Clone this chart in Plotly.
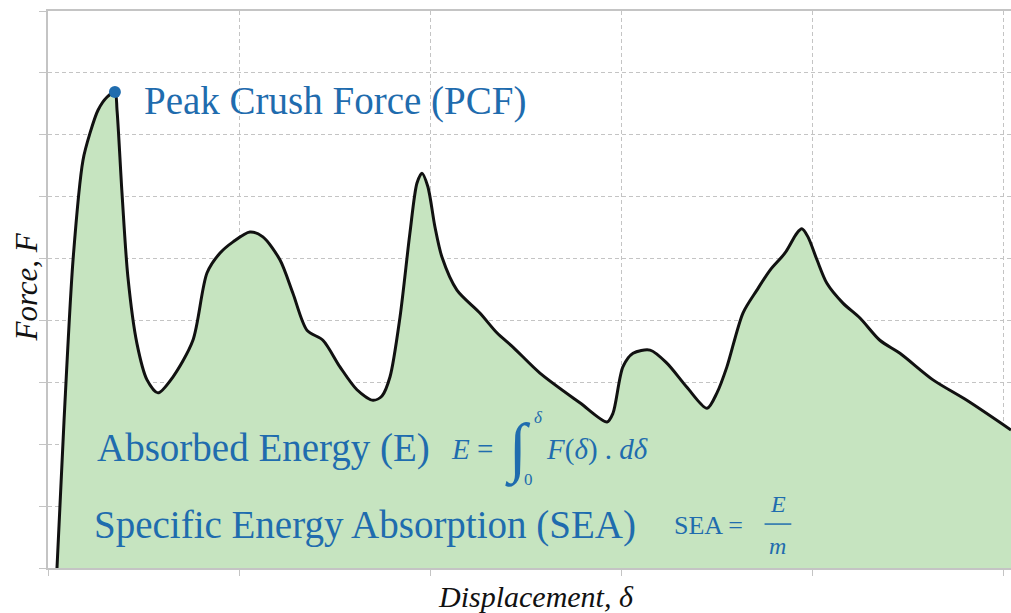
import plotly.graph_objects as go

# Force-displacement curve (data units: x grid step 1, y grid step 1)
disp = [0.047, 0.084, 0.131, 0.183, 0.220, 0.262, 0.309, 0.350, 0.361, 0.387, 0.418,
        0.465, 0.518, 0.575, 0.654, 0.758, 0.832, 0.900, 0.968, 1.056, 1.124, 1.213, 1.281,
        1.355, 1.438, 1.527, 1.616, 1.700, 1.747, 1.789, 1.841, 1.893, 1.930, 1.956, 1.987,
        2.024, 2.061, 2.139, 2.259, 2.348, 2.432, 2.573, 2.782, 2.924, 2.955, 3.007, 3.060,
        3.149, 3.237, 3.342, 3.447, 3.499, 3.551, 3.635, 3.708, 3.776, 3.855, 3.917, 3.943,
        3.975, 4.022, 4.074, 4.158, 4.247, 4.351, 4.456, 4.629, 4.806, 5.037]
force = [0.00, 2.39, 4.98, 6.59, 7.03, 7.40, 7.61, 7.69, 7.40, 6.06, 4.70,
         3.63, 3.04, 2.83, 3.09, 3.68, 4.77, 5.09, 5.27, 5.43, 5.35, 4.98, 4.44,
         3.84, 3.68, 3.25, 2.88, 2.71, 2.78, 3.09, 4.05, 5.41, 6.22, 6.38, 6.16,
         5.51, 5.02, 4.49, 4.12, 3.80, 3.57, 3.15, 2.67, 2.36, 2.50, 3.25, 3.47,
         3.52, 3.31, 2.92, 2.58, 2.83, 3.25, 4.12, 4.49, 4.81, 5.09, 5.41, 5.48,
         5.35, 4.98, 4.60, 4.28, 4.04, 3.68, 3.47, 3.04, 2.71, 2.23]

peak_x = [0.350]
peak_y = [7.69]

x_range = [0, 5.037]
y_range = [0, 9]

BLUE = "#1f6cae"
SERIF = "Liberation Serif, Times New Roman, serif"

fig = go.Figure()
fig.add_trace(go.Scatter(
    x=disp, y=force, mode="lines", fill="tozeroy",
    fillcolor="rgb(198,228,192)",
    line=dict(color="#111111", width=3, shape="spline", smoothing=0.8),
    hoverinfo="skip", showlegend=False))
fig.add_trace(go.Scatter(
    x=peak_x, y=peak_y, mode="markers",
    marker=dict(color=BLUE, size=12), showlegend=False))

ann = []
def txt(text, x, y, size, xanchor="left", italic=False, xref="x", yref="y", **kw):
    ann.append(dict(text=text, x=x, y=y, xref=xref, yref=yref, showarrow=False,
                    xanchor=xanchor, yanchor="middle",
                    font=dict(family=SERIF, size=size, color=kw.pop("color", BLUE),
                              style="italic" if italic else "normal"), **kw))

txt("Peak Crush Force (PCF)", 0.492, 7.54, 39)
txt("Absorbed Energy (E)", 0.246, 1.94, 39)
txt("Specific Energy Absorption (SEA)", 0.230, 0.695, 39)
txt("<i>E</i> =", 2.100, 1.92, 29)
txt("∫", 2.456, 1.93, 66, xanchor="center", italic=True)
txt("δ", 2.567, 2.43, 17, xanchor="center", italic=True)
txt("0", 2.515, 1.43, 17, xanchor="center")
txt("<i>F</i>(<i>δ</i>) . <i>dδ</i>", 2.596, 1.92, 29)
txt("SEA =", 3.262, 0.68, 26)
txt("E", 3.818, 1.03, 24, xanchor="center", italic=True)
txt("m", 3.818, 0.36, 24, xanchor="center", italic=True)
txt("Displacement, δ", 0.507, 0, 30, xanchor="center", italic=True,
    xref="paper", yref="paper", yshift=-28, color="#111111")
ann.append(dict(text="Force, F", x=-0.022, y=0.505, xref="paper", yref="paper",
                showarrow=False, textangle=-90, xanchor="center", yanchor="middle",
                font=dict(family=SERIF, size=31, color="#111111", style="italic")))

fig.update_layout(
    width=1011, height=613,
    margin=dict(l=48, r=0, t=11, b=45),
    paper_bgcolor="white", plot_bgcolor="white",
    annotations=ann,
    shapes=[dict(type="line", xref="x", yref="y", x0=3.748, x1=3.888, y0=0.71, y1=0.71,
                 line=dict(color=BLUE, width=1.5))],
)
fig.update_xaxes(range=x_range, dtick=1, tick0=0, showticklabels=False,
                 showgrid=True, gridcolor="#c4c4c4", gridwidth=1, griddash="4px,3px",
                 showline=True, linecolor="#c4c4c4", linewidth=1.5, mirror=True,
                 ticks="outside", ticklen=6, tickcolor="#c4c4c4", zeroline=False)
fig.update_yaxes(range=y_range, dtick=1, tick0=0, showticklabels=False,
                 showgrid=True, gridcolor="#c4c4c4", gridwidth=1, griddash="4px,3px",
                 showline=True, linecolor="#c4c4c4", linewidth=1.5,
                 ticks="outside", ticklen=7, tickcolor="#c4c4c4", zeroline=False)

fig.write_html("out.html")
